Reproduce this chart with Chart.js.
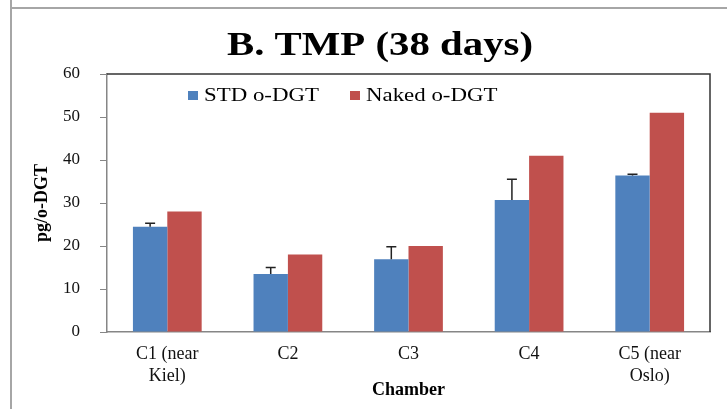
<!DOCTYPE html>
<html lang="en">
<head>
<meta charset="UTF-8">
<title>B. TMP (38 days)</title>
<script src="https://cdn.jsdelivr.net/npm/chart.js"></script>
<style>
    body { margin: 0; background: #ffffff; }
    .wrap { position: relative; width: 727px; height: 409px; }
    /* Rahmen der Folie links und oben */
    .frame-v { position: absolute; left: 10px; top: 0; width: 2px; height: 409px; background: #a6a6a6; }
    .frame-h { position: absolute; left: 10px; top: 7px; right: 0; height: 2px; background: #a6a6a6; }
    canvas { position: absolute; left: 0; top: 0; }
</style>
</head>
<body>
<div class="wrap">
    <div class="frame-v"></div>
    <div class="frame-h"></div>
    <canvas id="tmpChart"></canvas>
</div>
<script>
    // --- data ---
    const chartTitle = 'B. TMP (38 days)';
    const chambers = [['C1 (near', 'Kiel)'], 'C2', 'C3', 'C4', ['C5 (near', 'Oslo)']];
    const stdValues = [24.5, 13.5, 16.9, 30.7, 36.4];     // STD o-DGT
    const stdErrors = [0.8, 1.5, 2.9, 4.8, 0.3];          // upper error bars
    const nakedValues = [28, 18, 20, 41, 51];             // Naked o-DGT
    const yTicks = [0, 10, 20, 30, 40, 50, 60];

    const serif = '"Liberation Serif", "Times New Roman", serif';

    // title, plot frame, legend inside plot and error bars
    const extras = {
        id: 'extras',
        afterDatasetsDraw(chart) {
            const ctx = chart.ctx;
            const y = chart.scales.y;
            const meta = chart.getDatasetMeta(0);
            ctx.save();
            ctx.strokeStyle = '#222';
            ctx.lineWidth = 1.5;
            meta.data.forEach((bar, i) => {
                const top = y.getPixelForValue(stdValues[i] + stdErrors[i]);
                ctx.beginPath();
                ctx.moveTo(bar.x, bar.y);
                ctx.lineTo(bar.x, top);
                ctx.moveTo(bar.x - 5, top);
                ctx.lineTo(bar.x + 5, top);
                ctx.stroke();
            });
            ctx.restore();
        },
        afterDraw(chart) {
            const ctx = chart.ctx;
            const a = chart.chartArea;
            ctx.save();
            // top and right border of the plot area
            ctx.strokeStyle = '#333';
            ctx.lineWidth = 1.5;
            ctx.beginPath();
            ctx.moveTo(a.left, a.top);
            ctx.lineTo(a.right, a.top);
            ctx.lineTo(a.right, a.bottom);
            ctx.stroke();

            // title (the original picture is a bit stretched sideways)
            ctx.fillStyle = '#000';
            ctx.font = 'bold 34px ' + serif;
            ctx.textAlign = 'center';
            ctx.textBaseline = 'alphabetic';
            ctx.save();
            ctx.translate(380, 55);
            ctx.scale(1.2, 1);
            ctx.fillText(chartTitle, 0, 0);
            ctx.restore();

            // legend
            ctx.font = '18px ' + serif;
            ctx.textAlign = 'left';
            const offsets = [81, 243];
            chart.data.datasets.forEach((ds, i) => {
                const x = a.left + offsets[i];
                ctx.fillStyle = ds.backgroundColor;
                ctx.fillRect(x, a.top + 17, 10, 9);
                ctx.fillStyle = '#000';
                ctx.save();
                ctx.translate(x + 16, a.top + 27);
                ctx.scale(1.27, 1);
                ctx.fillText(ds.label, 0, 0);
                ctx.restore();
            });
            ctx.restore();
        }
    };

    const ctx = document.getElementById('tmpChart').getContext('2d');
    new Chart(ctx, {
        type: 'bar',
        data: {
            labels: chambers,
            datasets: [{
                label: 'STD o-DGT',
                data: stdValues,
                backgroundColor: '#4F81BD',
                barPercentage: 1.0,
                categoryPercentage: 0.57
            }, {
                label: 'Naked o-DGT',
                data: nakedValues,
                backgroundColor: '#C0504D',
                barPercentage: 1.0,
                categoryPercentage: 0.57
            }]
        },
        options: {
            responsive: true,
            maintainAspectRatio: false,
            animation: false,
            layout: { padding: { left: 20, right: 17, top: 74, bottom: 0 } },
            scales: {
                x: {
                    grid: { display: false, drawTicks: false },
                    border: { display: true, color: '#868686', width: 1.5 },
                    ticks: {
                        color: '#111',
                        font: { family: serif, size: 18, lineHeight: 1.25 },
                        padding: 11,
                        maxRotation: 0,
                        autoSkip: false
                    },
                    title: {
                        display: true,
                        text: 'Chamber',
                        color: '#000',
                        font: { family: serif, size: 18, weight: 'bold' },
                        padding: { top: 0, bottom: 8 }
                    },
                    afterFit(scale) { scale.height = 77; }
                },
                y: {
                    min: 0,
                    max: 60,
                    afterBuildTicks(scale) { scale.ticks = yTicks.map(v => ({ value: v })); },
                    grid: { drawOnChartArea: false, drawTicks: true, tickLength: 7, color: '#868686' },
                    border: { display: true, color: '#868686', width: 1.5 },
                    ticks: {
                        color: '#111',
                        font: { family: serif, size: 17 },
                        padding: 20
                    },
                    title: {
                        display: true,
                        text: 'pg/o-DGT',
                        color: '#000',
                        font: { family: serif, size: 18, weight: 'bold' },
                        padding: { top: 12, bottom: 0 }
                    },
                    afterFit(scale) { scale.width = 87; }
                }
            },
            plugins: {
                legend: { display: false },
                tooltip: { enabled: false }
            }
        },
        plugins: [extras]
    });
</script>
</body>
</html>
